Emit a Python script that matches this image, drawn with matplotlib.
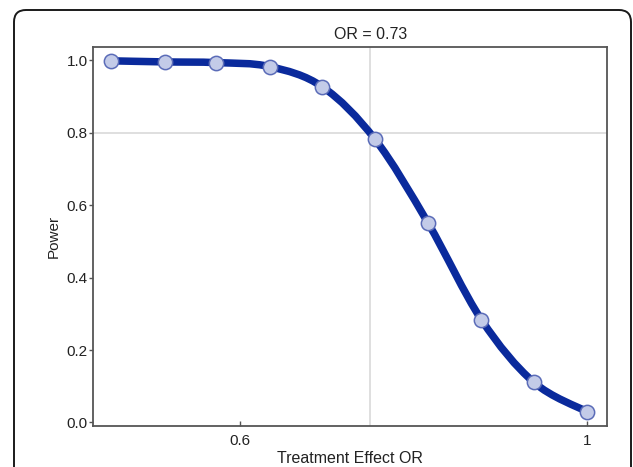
import matplotlib
matplotlib.use("Agg")
import matplotlib.pyplot as plt
from matplotlib.patches import FancyBboxPatch, PathPatch
from matplotlib.path import Path
from matplotlib.transforms import IdentityTransform, blended_transform_factory
import numpy as np

plt.rcParams['font.family'] = ['Liberation Sans', 'DejaVu Sans']

odds_ratio = [0.4961, 0.5368, 0.5795, 0.6268, 0.6775, 0.7321, 0.7915, 0.8562, 0.9249, 1.0]
power = [0.999, 0.996, 0.994, 0.983, 0.927, 0.782, 0.551, 0.284, 0.111, 0.030]
target_or = 0.727
target_power = 0.8
xticks = [0.6, 1.0]
xticklabels = ["0.6", "1"]
yticks = [0.0, 0.2, 0.4, 0.6, 0.8, 1.0]

W, H = 633, 467
fig = plt.figure(figsize=(W / 100, H / 100), dpi=100)
ax = fig.add_axes([92.7 / W, 1 - 425.5 / H, (606.7 - 92.7) / W, (425.5 - 46.7) / H])

# rounded outer frame (pixel coordinates)
frame = FancyBboxPatch((14, H - 490), 631 - 14, 490 - 10,
                       boxstyle="round,pad=0,rounding_size=12",
                       transform=IdentityTransform(), fill=False, ec="#1a1a1a", lw=1.4,
                       clip_on=False)
fig.patches.append(frame)

ax.set_xscale('log')
ax.axvline(target_or, color="#d9d9d9", lw=1.2, zorder=1)
ax.axhline(target_power, color="#d9d9d9", lw=1.2, zorder=1)

# smooth curve through the data points (Catmull-Rom as cubic Bezier, in log-x space)
lx = np.log(np.array(odds_ratio))
py = np.array(power)
pts = np.column_stack([lx, py])
verts = [pts[0]]
codes = [Path.MOVETO]
n = len(pts)
for i in range(n - 1):
    p0 = pts[i - 1] if i > 0 else pts[i]
    p1 = pts[i]
    p2 = pts[i + 1]
    p3 = pts[i + 2] if i + 2 < n else pts[i + 1]
    c1 = p1 + (p2 - p0) / 6.0
    c2 = p2 - (p3 - p1) / 6.0
    verts += [c1, c2, p2]
    codes += [Path.CURVE4] * 3
verts = np.array(verts)
verts[:, 0] = np.exp(verts[:, 0])
curve = PathPatch(Path(verts, codes), fill=False, ec="#0a2a9c", lw=5.4,
                  capstyle='round', joinstyle='round', zorder=2)
ax.add_patch(curve)
ax.plot(odds_ratio, power, 'o', ms=10.3, mfc="#c3cbe8", mec="#5b6cb8", mew=1.1, zorder=3)

ax.set_xlim(0.4829, 1.0299)
ax.set_ylim(-0.0086, 1.038)
ax.set_xticks(xticks)
ax.set_xticklabels(xticklabels)
ax.xaxis.set_minor_locator(matplotlib.ticker.NullLocator())
ax.set_yticks(yticks)
ax.set_yticklabels([f"{v:.1f}" for v in yticks])
ax.tick_params(axis='x', direction='in', length=3.5, width=1, color="#555555",
               labelsize=11, labelcolor="#222222", pad=6)
ax.tick_params(axis='y', direction='out', length=3, width=1, color="#555555",
               labelsize=11, labelcolor="#222222", pad=0.5)
for s in ax.spines.values():
    s.set_color("#555555")
    s.set_linewidth(1.3)

trans = blended_transform_factory(ax.transData, ax.transAxes)
ax.text(target_or, 1.012, "OR = 0.73", transform=trans, ha='center', va='bottom',
        fontsize=11.5, color="#222222")
ax.set_xlabel("Treatment Effect OR", fontsize=11.5, color="#222222", labelpad=2)
ax.set_ylabel("Power", fontsize=11, color="#222222", labelpad=4)

fig.savefig("out.png", dpi=100)
